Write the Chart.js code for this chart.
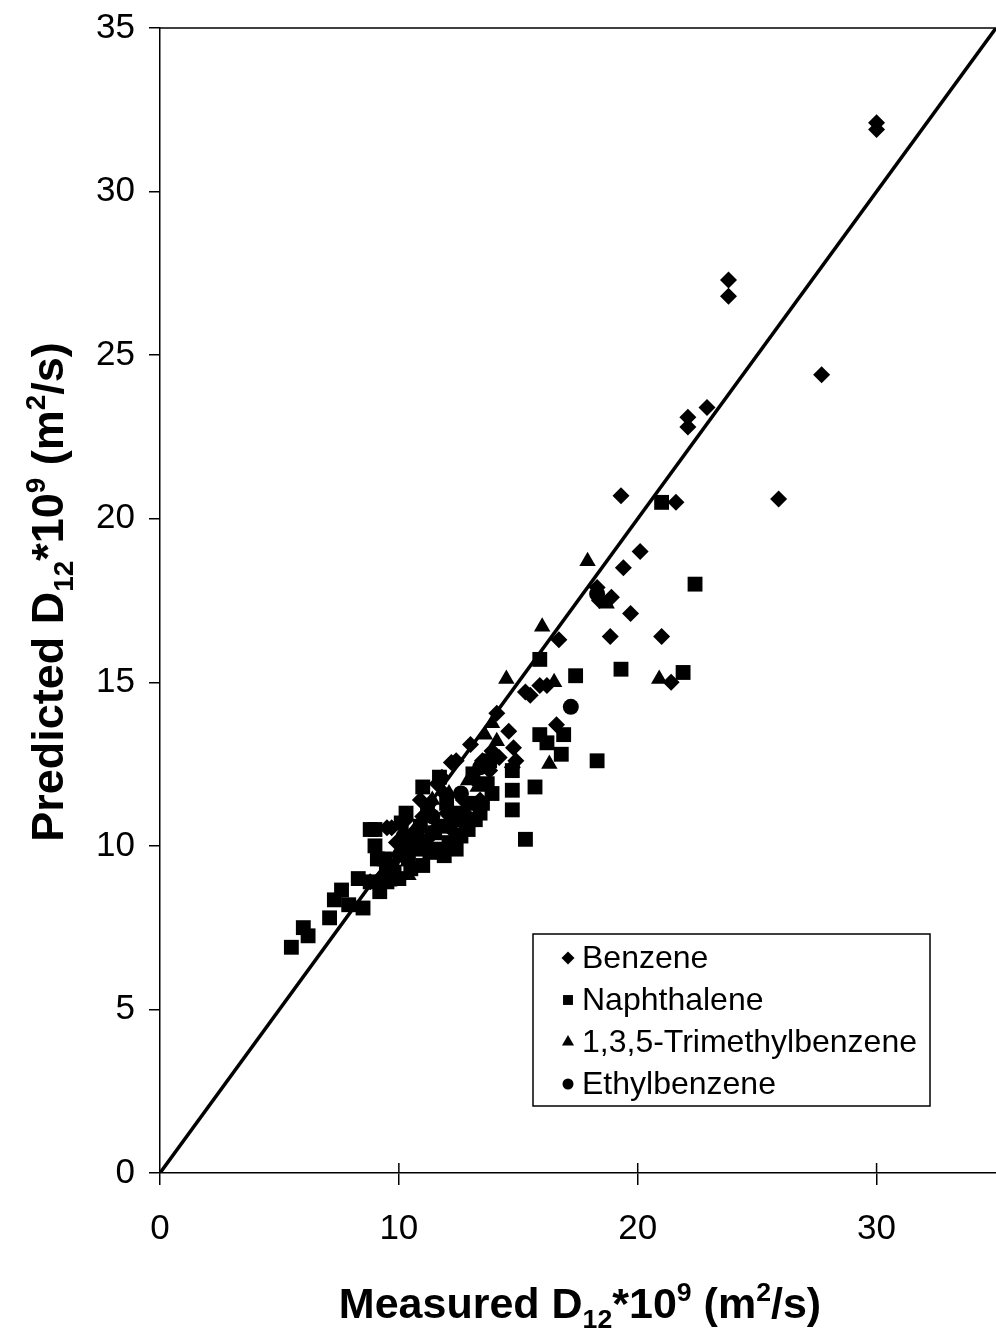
<!DOCTYPE html>
<html>
<head>
<meta charset="utf-8">
<script src="https://cdn.jsdelivr.net/npm/chart.js@4.4.1/dist/chart.umd.min.js"></script>
<style>
  html, body { margin: 0; padding: 0; background: #fff; }
  #c { display: block; }
</style>
</head>
<body>
<canvas id="c" width="996" height="1330"></canvas>
<script>
// Series names shown in the legend
const seriesNames = ['Benzene', 'Naphthalene', '1,3,5-Trimethylbenzene', 'Ethylbenzene'];

// [measured, predicted] diffusion coefficients, D12*10^9 (m^2/s)
const benzene = [
  [30.0, 32.1], [30.0, 31.9], [23.8, 27.3], [23.8, 26.8], [27.7, 24.4],
  [22.9, 23.4], [22.1, 23.1], [22.1, 22.8], [25.9, 20.6], [19.3, 20.7],
  [21.6, 20.5], [20.1, 19.0], [19.4, 18.5], [18.3, 17.9], [18.9, 17.6],
  [18.4, 17.5], [19.7, 17.1], [18.85, 16.4], [21.0, 16.4], [16.7, 16.3],
  [21.4, 15.0], [15.5, 14.6], [15.9, 14.9], [16.2, 14.9], [15.3, 14.7],
  [16.6, 13.7], [14.1, 14.05], [14.6, 13.5], [14.8, 13.0], [14.75, 12.4],
  [14.9, 12.6], [13.0, 13.1], [12.2, 12.55], [12.4, 12.6], [11.8, 12.1],
  [11.6, 11.9], [12.7, 11.4], [13.2, 12.0], [13.5, 12.6], [13.8, 12.3],
  [12.0, 11.0], [11.3, 11.3], [11.0, 10.9], [10.6, 10.4], [10.3, 10.8],
  [9.9, 10.1], [9.7, 10.55], [9.5, 10.55], [9.2, 9.0], [8.8, 8.9],
  [10.8, 10.0], [11.5, 10.5], [12.4, 10.9], [13.4, 11.4], [14.2, 12.7],
  [13.9, 12.9], [10.0, 9.7], [10.5, 10.0], [11.2, 10.2], [12.2, 10.5],
  [12.9, 10.9], [11.9, 11.6], [10.9, 11.4]
];
const naphthalene = [
  [5.5, 6.9], [6.0, 7.5], [6.2, 7.25], [7.1, 7.8], [7.3, 8.35],
  [7.6, 8.65], [7.9, 8.2], [8.3, 9.0], [8.5, 8.1], [8.8, 10.5],
  [9.0, 10.5], [9.0, 10.0], [9.1, 9.6], [9.2, 8.6], [9.5, 8.9],
  [9.8, 9.2], [10.0, 9.0], [10.3, 11.0], [10.6, 10.2], [10.9, 10.6],
  [11.0, 11.8], [11.0, 9.4], [11.3, 9.8], [11.5, 10.4], [11.7, 12.1],
  [11.9, 9.7], [12.1, 10.1], [12.3, 10.8], [12.6, 10.3], [12.9, 10.5],
  [13.1, 12.2], [13.2, 10.8], [13.4, 11.0], [13.7, 11.9], [13.8, 12.6],
  [13.9, 11.6], [13.5, 11.3], [14.75, 11.7], [14.75, 11.1], [15.3, 10.2],
  [15.7, 11.8], [14.75, 12.3], [15.9, 13.4], [16.2, 13.15], [16.9, 13.4],
  [16.8, 12.8], [18.3, 12.6], [15.9, 15.7], [17.4, 15.2], [19.3, 15.4],
  [21.9, 15.3], [22.4, 18.0], [21.0, 20.5], [10.1, 10.7], [11.2, 11.2],
  [12.0, 11.3], [9.4, 9.6], [8.8, 8.9], [10.4, 9.6], [10.7, 9.9],
  [11.6, 9.9], [12.4, 9.9], [12.8, 10.7], [10.2, 10.0], [11.8, 10.6],
  [12.5, 11.0], [13.0, 11.3], [9.7, 9.4], [10.5, 9.3]
];
const trimethylbenzene = [
  [17.9, 18.7], [18.7, 17.4], [16.0, 16.7], [14.5, 15.1], [16.5, 15.0],
  [20.9, 15.1], [16.3, 12.5], [13.9, 13.75], [14.1, 13.2], [13.6, 13.4],
  [12.1, 11.6], [11.4, 11.4], [10.9, 10.3], [10.4, 9.1], [9.6, 8.9],
  [12.9, 12.0], [13.3, 11.8]
];
const ethylbenzene = [
  [17.2, 14.25], [18.3, 17.7], [10.2, 10.3], [11.4, 10.9], [12.6, 11.6],
  [9.5, 9.3], [13.4, 12.4]
];

// 1:1 parity line end points
const parityLine = [0, 35];

// Axis ranges and tick steps
const axisMin = 0;
const axisMax = 35;
const xTickStep = 10;
const yTickStep = 5;

// Axis titles as rich-text runs: [text, kind] (kind: n = normal, sub, sup)
const xTitleRuns = [['Measured D', 'n'], ['12', 'sub'], ['*10', 'n'], ['9', 'sup'], [' (m', 'n'], ['2', 'sup'], ['/s)', 'n']];
const yTitleRuns = [['Predicted D', 'n'], ['12', 'sub'], ['*10', 'n'], ['9', 'sup'], [' (m', 'n'], ['2', 'sup'], ['/s)', 'n']];

const FONT = "'Liberation Sans', Arial, sans-serif";
const toPoints = arr => arr.map(p => ({ x: p[0], y: p[1] }));

const markerStyles = [
  { pointStyle: 'rectRot', radius: 8.5 },
  { pointStyle: 'rect', radius: 10.5 },
  { pointStyle: 'triangle', radius: 9.5 },
  { pointStyle: 'circle', radius: 8 }
];
const seriesData = [benzene, naphthalene, trimethylbenzene, ethylbenzene];

const datasets = [{
  type: 'line',
  label: 'parity',
  data: parityLine.map(v => ({ x: v, y: v })),
  borderColor: '#000',
  borderWidth: 3.5,
  pointRadius: 0,
  fill: false,
  order: 0
}];
seriesData.forEach((d, i) => {
  datasets.push({
    label: seriesNames[i],
    data: toPoints(d),
    pointStyle: markerStyles[i].pointStyle,
    pointRadius: markerStyles[i].radius,
    pointHoverRadius: markerStyles[i].radius,
    backgroundColor: '#000',
    borderColor: '#000',
    borderWidth: 0,
    order: 1
  });
});

function drawRich(ctx, runs, size, cx, cy) {
  const bold = 'bold ';
  const smallSize = size * 0.62;
  let total = 0;
  runs.forEach(([t, k]) => {
    ctx.font = bold + (k === 'n' ? size : smallSize) + 'px ' + FONT;
    total += ctx.measureText(t).width;
  });
  let x = cx - total / 2;
  ctx.textBaseline = 'alphabetic';
  ctx.textAlign = 'left';
  const base = cy + size * 0.36;
  runs.forEach(([t, k]) => {
    ctx.font = bold + (k === 'n' ? size : smallSize) + 'px ' + FONT;
    let y = base;
    if (k === 'sub') y = base + size * 0.22;
    if (k === 'sup') y = base - size * 0.40;
    ctx.fillText(t, x, y);
    x += ctx.measureText(t).width;
  });
}

const decorations = {
  id: 'decorations',
  afterDraw(chart) {
    const ctx = chart.ctx;
    const a = chart.chartArea;
    const xs = chart.scales.x;
    ctx.save();
    ctx.strokeStyle = '#000';
    ctx.fillStyle = '#000';
    // top frame line
    ctx.lineWidth = 1.5;
    ctx.beginPath();
    ctx.moveTo(a.left, a.top);
    ctx.lineTo(a.right, a.top);
    ctx.stroke();
    // inward half of the x tick marks
    xs.ticks.forEach(t => {
      if (t.value === axisMin) return;
      const px = xs.getPixelForValue(t.value);
      ctx.beginPath();
      ctx.moveTo(px, a.bottom);
      ctx.lineTo(px, a.bottom - 10);
      ctx.stroke();
    });

    // legend box
    const lx = 533, ly = 934, lw = 397, lh = 172;
    ctx.fillStyle = '#fff';
    ctx.fillRect(lx, ly, lw, lh);
    ctx.lineWidth = 1.5;
    ctx.strokeRect(lx, ly, lw, lh);
    const legendMarkers = [
      { pointStyle: 'rectRot', radius: 6.5 },
      { pointStyle: 'rect', radius: 7 },
      { pointStyle: 'triangle', radius: 7 },
      { pointStyle: 'circle', radius: 5.5 }
    ];
    seriesNames.forEach((name, i) => {
      const rowY = 958 + i * 42;
      ctx.fillStyle = '#000';
      Chart.helpers.drawPoint(ctx, { pointStyle: legendMarkers[i].pointStyle, radius: legendMarkers[i].radius, rotation: 0, borderWidth: 0 }, 568, rowY);
      ctx.fillStyle = '#000';
      ctx.font = '32px ' + FONT;
      ctx.textBaseline = 'middle';
      ctx.textAlign = 'left';
      ctx.fillText(name, 582, rowY + 1);
    });

    // axis titles
    ctx.fillStyle = '#000';
    drawRich(ctx, xTitleRuns, 43, 580, 1303);
    ctx.save();
    ctx.translate(47, 592);
    ctx.rotate(-Math.PI / 2);
    drawRich(ctx, yTitleRuns, 45, 0, 0);
    ctx.restore();
    ctx.restore();
  }
};

new Chart(document.getElementById('c'), {
  type: 'scatter',
  data: { datasets },
  options: {
    responsive: false,
    devicePixelRatio: 1,
    animation: false,
    events: [],
    layout: { autoPadding: false, padding: { top: 28, right: 0, left: 0, bottom: 0 } },
    plugins: { legend: { display: false }, tooltip: { enabled: false }, title: { display: false } },
    scales: {
      x: {
        type: 'linear',
        min: axisMin,
        max: axisMax,
        afterBuildTicks: s => { s.ticks = s.ticks.filter(t => t.value % xTickStep === 0); },
        afterFit: s => { s.height = 157; s.paddingLeft = 0; s.paddingRight = 0; },
        ticks: { stepSize: xTickStep, color: '#000', font: { family: FONT, size: 35 }, padding: 23, maxRotation: 0 },
        grid: { drawOnChartArea: false, drawTicks: true, tickLength: 12, color: '#000', lineWidth: 1.5 },
        border: { display: true, color: '#000', width: 1.5 }
      },
      y: {
        type: 'linear',
        min: axisMin,
        max: axisMax,
        afterFit: s => { s.width = 160; s.paddingTop = 0; s.paddingBottom = 0; },
        ticks: { stepSize: yTickStep, color: '#000', font: { family: FONT, size: 35 }, padding: 14 },
        grid: { drawOnChartArea: false, drawTicks: true, tickLength: 11, color: '#000', lineWidth: 1.5 },
        border: { display: true, color: '#000', width: 1.5 }
      }
    }
  },
  plugins: [decorations]
});
</script>
</body>
</html>
